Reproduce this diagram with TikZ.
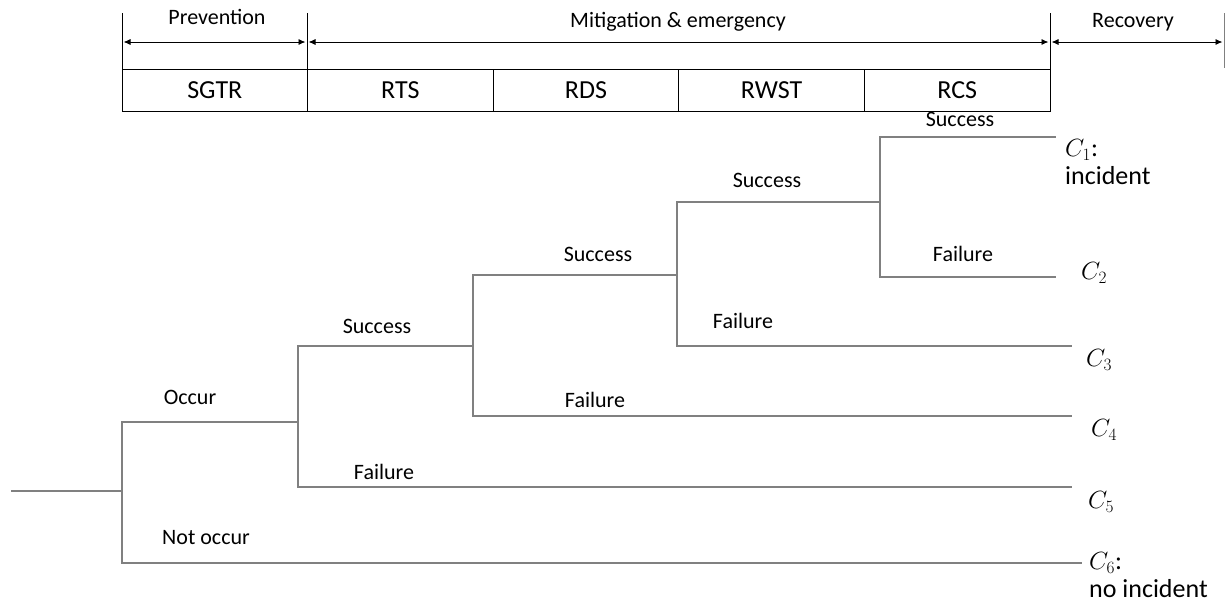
\documentclass[tikz,border=0pt]{standalone}
\usepackage{fontspec}
\setmainfont{Carlito}
\usetikzlibrary{arrows.meta,positioning}
\definecolor{treegray}{RGB}{128,128,128}
\tikzset{
  branch/.style={draw=treegray,line width=1.3pt},
  lbl/.style={font=\fontsize{22}{26}\selectfont,inner sep=0pt},
  endlbl/.style={font=\fontsize{26}{28}\selectfont,align=left,anchor=west,inner sep=0pt},
  stagebox/.style={draw,line width=1pt,minimum width=185.6pt,minimum height=42pt,
    inner sep=0pt,outer sep=0pt,font=\fontsize{26}{28}\selectfont},
  span/.style={{Latex[length=7pt,width=6pt]}-{Latex[length=7pt,width=6pt]},
    line width=0.9pt,shorten <=1.5pt,shorten >=1.5pt}
}
\begin{document}
\begin{tikzpicture}[x=1pt,y=-1pt]
\useasboundingbox (0,0) rectangle (1229,603);

\foreach \n/\x in {t0/122,t1/307,t2/1050}
{
    \coordinate (\n) at (\x,42);
    \draw[line width=0.9pt](\x,13)--(\x,69);
}
\coordinate (t3) at (1224,42);
\draw[line width=0.9pt,treegray](1224,13)--(1224,68);
\draw[span](t0)--(t1);
\draw[span](t1)--(t2);
\draw[span](t2)--(t3);
\node[lbl] (prev) at (217,17) {Prevention};
\node[lbl] (miti) at (678,22) {Mitigation \& emergency};
\node[lbl] (reco) at (1133,22) {Recovery};

\foreach \i/\t in {0/SGTR,1/RTS,2/RDS,3/RWST,4/RCS}
{
    \node[stagebox] (s\i) at ({214.8+185.6*\i},90) {\t};
}

\coordinate (start) at (11,491);
\coordinate (j0) at (122,491);
\coordinate (j1) at (298,422);
\coordinate (j2) at (473,346);
\coordinate (j3) at (677,275);
\coordinate (j4) at (880,202);
\coordinate (e1) at (1056,137);
\coordinate (e2) at (1056,277);
\coordinate (e3) at (1072,346);
\coordinate (e4) at (1072,416);
\coordinate (e5) at (1072,487);
\coordinate (e6) at (1082,563);

\draw[branch](start)--(j0);
\draw[branch](j0)|-(j1);
\draw[branch](j0)|-(e6);
\draw[branch](j1)|-(j2);
\draw[branch](j1)|-(e5);
\draw[branch](j2)|-(j3);
\draw[branch](j2)|-(e4);
\draw[branch](j3)|-(j4);
\draw[branch](j3)|-(e3);
\draw[branch](j4)|-(e1);
\draw[branch](j4)|-(e2);

\node[lbl] (occ) at (190,397) {Occur};
\node[lbl] (nocc) at (206,538) {Not occur};
\node[lbl] (suc1) at (377,326) {Success};
\node[lbl] (fai1) at (384,472) {Failure};
\node[lbl] (suc2) at (598,254) {Success};
\node[lbl] (fai2) at (595,400) {Failure};
\node[lbl] (suc3) at (767,180) {Success};
\node[lbl] (fai3) at (743,321) {Failure};
\node[lbl] (suc4) at (960,119) {Success};
\node[lbl] (fai4) at (963,254) {Failure};

\node[endlbl] (c1) at (1065,162) {\(C_1\):\\incident};
\node[endlbl] (c2) at (1081,273) {\(C_2\)};
\node[endlbl] (c3) at (1086,360) {\(C_3\)};
\node[endlbl] (c4) at (1091,430) {\(C_4\)};
\node[endlbl] (c5) at (1088,502) {\(C_5\)};
\node[endlbl] (c6) at (1089,575) {\(C_6\):\\no incident};
\end{tikzpicture}
\end{document}
